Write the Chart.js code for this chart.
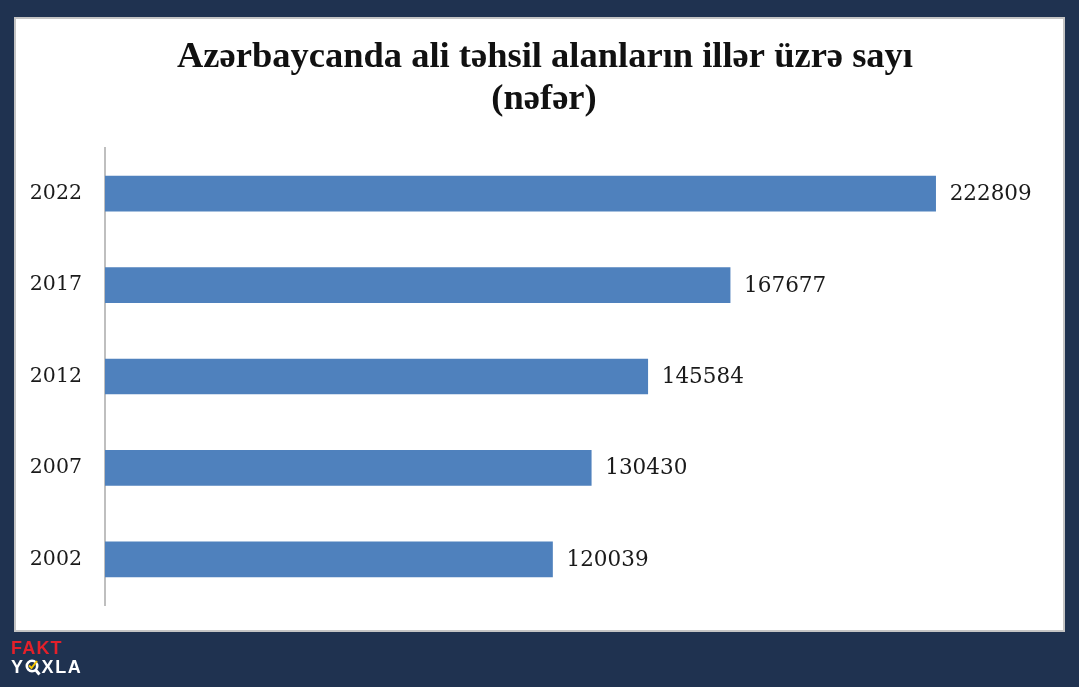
<!DOCTYPE html>
<html>
<head>
<meta charset="utf-8">
<script src="https://cdn.jsdelivr.net/npm/chart.js@4/dist/chart.umd.min.js"></script>
<style>
  html, body { margin: 0; padding: 0; }
  body { width: 1079px; height: 687px; background: #1f3250; position: relative; overflow: hidden; }
  #panel { position: absolute; left: 14px; top: 17px; width: 1051px; height: 615px;
           box-sizing: border-box; background: #fff; border: 2px solid #c4c4c4; }
  #wrap { position: absolute; left: 0; top: 0; width: 1079px; height: 687px; }
  #logo { position: absolute; left: 11px; top: 639px; font-family: "Liberation Sans", Arial, sans-serif;
          font-weight: bold; font-size: 18px; line-height: 19px; }
  #logo .fakt { color: #e4202a; letter-spacing: 1.2px; }
  #logo .yoxla { color: #fff; letter-spacing: 1.6px; white-space: nowrap; }
  #logo svg { vertical-align: -4px; margin: 0 1px 0 0; }
</style>
</head>
<body>
<div id="panel"></div>
<div id="wrap"><canvas id="chart" width="1079" height="687"></canvas></div>
<div id="logo">
  <div class="fakt">FAKT</div>
  <div class="yoxla">Y<svg width="16" height="18" viewBox="0 0 16 18"><circle cx="7" cy="7" r="5.2" fill="none" stroke="#fff" stroke-width="2.6"/><line x1="10.5" y1="10.8" x2="14.5" y2="15.5" stroke="#fff" stroke-width="3"/><polyline points="4,6.5 6.5,9 12,2" fill="none" stroke="#f5c400" stroke-width="2"/></svg>XLA</div>
</div>
<script>
// Chart data
const years = ['2022', '2017', '2012', '2007', '2002'];
const students = [222809, 167677, 145584, 130430, 120039];
const titleLines = ['Azərbaycanda ali təhsil alanların illər üzrə sayı', '(nəfər)'];

// Title centred on the white panel, not on the canvas
const panelTitle = {
    id: 'panelTitle',
    afterDraw(chart) {
        const ctx = chart.ctx;
        ctx.save();
        ctx.font = 'bold 36.5px "Liberation Serif", serif';
        ctx.fillStyle = '#111';
        ctx.textAlign = 'center';
        ctx.textBaseline = 'alphabetic';
        ctx.fillText(titleLines[0], 545, 67);
        ctx.fillText(titleLines[1], 544, 109);
        ctx.restore();
    }
};

// Draw the value next to each bar end
const valueLabels = {
    id: 'valueLabels',
    afterDatasetsDraw(chart) {
        const ctx = chart.ctx;
        const meta = chart.getDatasetMeta(0);
        ctx.save();
        ctx.font = '21.5px "DejaVu Serif", serif';
        ctx.fillStyle = '#1a1a1a';
        ctx.textAlign = 'left';
        ctx.textBaseline = 'middle';
        meta.data.forEach((bar, i) => {
            ctx.fillText(String(students[i]), bar.x + 14, bar.y + 1);
        });
        ctx.restore();
    }
};

const ctx = document.getElementById('chart').getContext('2d');
window.studentsChart = new Chart(ctx, {
    type: 'bar',
    data: {
        labels: years,
        datasets: [{
            data: students,
            backgroundColor: '#4f81bd',
            borderWidth: 0,
            barThickness: 35
        }]
    },
    options: {
        indexAxis: 'y',
        responsive: false,
        animation: false,
        layout: {
            padding: { left: 0, top: 148, right: 42, bottom: 82 }
        },
        plugins: {
            legend: { display: false },
            tooltip: { enabled: false },
            title: { display: false }
        },
        scales: {
            x: {
                display: false,
                min: 0,
                max: 250000
            },
            y: {
                afterFit(scale) { scale.width = 105; },
                grid: { display: false, drawTicks: false },
                border: { display: true, color: '#bfbfbf', width: 2 },
                ticks: {
                    color: '#1a1a1a',
                    padding: 23,
                    font: { family: '"DejaVu Serif", serif', size: 20.5 }
                }
            }
        }
    },
    plugins: [valueLabels, panelTitle]
});
</script>
</body>
</html>
